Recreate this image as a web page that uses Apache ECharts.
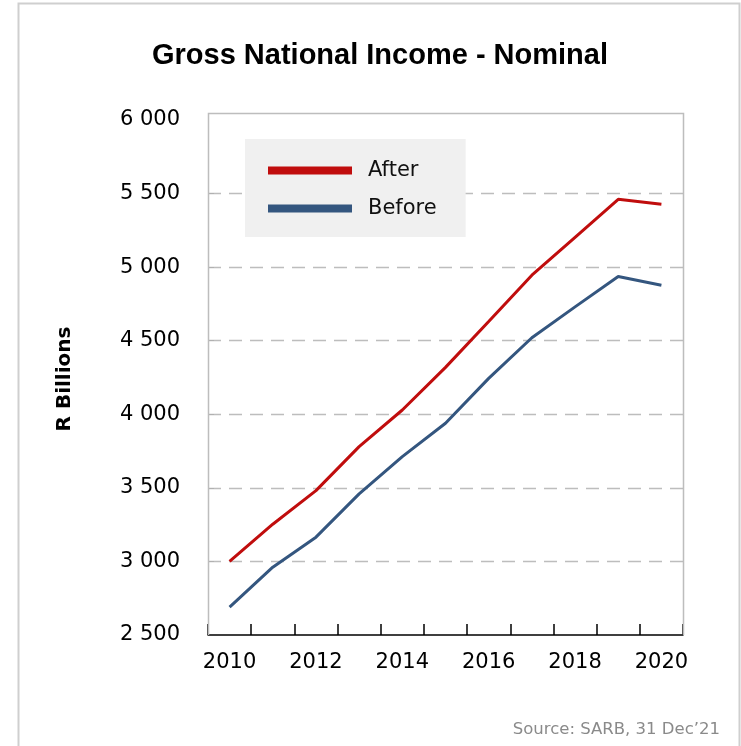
<!DOCTYPE html>
<html>
<head>
<meta charset="utf-8">
<script src="https://cdn.jsdelivr.net/npm/echarts@6/dist/echarts.min.js"></script>
<style>
html,body{margin:0;padding:0;background:#fff;}
#chart{width:741px;height:746px;}
</style>
</head>
<body>
<div id="chart"></div>
<script>
const years = ['2010','2011','2012','2013','2014','2015','2016','2017','2018','2019','2020'];
const afterValues = [3000, 3253, 3481, 3780, 4029, 4319, 4630, 4945, 5203, 5461, 5427];
const beforeValues = [2690, 2961, 3165, 3459, 3712, 3939, 4244, 4520, 4730, 4936, 4877];
const yTicks = { min: 2500, max: 6000, interval: 500 };

const W = 741, H = 746;
const G = { left: 208, right: 58, top: 120, bottom: 111 };
const frameTop = 113.5;
const gx0 = G.left + 0.5, gx1 = W - G.right + 0.5, gy1 = H - G.bottom;

const innerTicks = [];
for (let v = yTicks.min + yTicks.interval; v < yTicks.max; v += yTicks.interval) innerTicks.push(v);

const fmt = v => String(v).replace(/\B(?=(\d{3})+(?!\d))/g, ' ');
const FONT = 'DejaVu Sans';

const chart = echarts.init(document.getElementById('chart'), null, { renderer: 'canvas' });
chart.setOption({
  animation: false,
  backgroundColor: '#ffffff',
  title: {
    text: 'Gross National Income - Nominal',
    left: 375, top: 36, textAlign: 'center',
    textStyle: { fontFamily: 'Liberation Sans', fontWeight: 'bold', fontSize: 29, color: '#000' }
  },
  legend: {
    orient: 'vertical',
    left: 245, top: 139,
    padding: [21, 29, 18, 23],
    itemGap: 17,
    itemWidth: 84, itemHeight: 8,
    icon: 'rect',
    backgroundColor: '#f0f0f0',
    textStyle: { fontFamily: FONT, fontSize: 21, color: '#111', padding: [0, 0, 0, 11] },
    data: ['After', 'Before']
  },
  grid: { left: G.left, right: G.right, top: G.top, bottom: G.bottom },
  xAxis: {
    type: 'category',
    data: years,
    boundaryGap: true,
    axisLine: { show: true, lineStyle: { color: '#000', width: 1.5 } },
    axisTick: { show: true, interval: 0, inside: true, length: 11, lineStyle: { color: '#000', width: 1.5 } },
    axisLabel: { interval: 1, margin: 17, fontFamily: FONT, fontSize: 21, color: '#000' },
    splitLine: { show: false }
  },
  yAxis: {
    type: 'value',
    min: yTicks.min, max: yTicks.max, interval: yTicks.interval,
    axisLine: { show: false },
    axisTick: { show: true, inside: true, length: 6, customValues: innerTicks, lineStyle: { color: '#b0b0b0' } },
    axisLabel: { margin: 28, fontFamily: FONT, fontSize: 21, color: '#000', formatter: fmt },
    splitLine: { show: true, showMinLine: true, showMaxLine: true,
      lineStyle: { color: '#bdbdbd', width: 1.4, type: [13, 8] } }
  },
  series: [
    { name: 'After', type: 'line', data: afterValues, symbol: 'none', smooth: false,
      color: '#C00D0D', lineStyle: { color: '#C00D0D', width: 3 } },
    { name: 'Before', type: 'line', data: beforeValues, symbol: 'none', smooth: false,
      color: '#34567F', lineStyle: { color: '#34567F', width: 3 } }
  ],
  graphic: [
    { type: 'rect', silent: true, z: -1,
      shape: { x: 18.5, y: 3.5, width: 721, height: 760 },
      style: { fill: 'none', stroke: '#cfcfcf', lineWidth: 2 } },
    { type: 'polyline', silent: true, z: 5,
      shape: { points: [[gx0, gy1], [gx0, frameTop], [gx1, frameTop], [gx1, gy1]] },
      style: { fill: 'none', stroke: '#bdbdbd', lineWidth: 1.5 } },
    { type: 'text', silent: true, x: 65, y: 379, rotation: Math.PI / 2,
      style: { text: 'R Billions', align: 'center', verticalAlign: 'middle',
        font: 'bold 20px "DejaVu Sans"', fill: '#000' } },
    { type: 'text', silent: true, x: 720, y: 730,
      style: { text: 'Source: SARB, 31 Dec\u201921', align: 'right', verticalAlign: 'middle',
        font: '16.5px "DejaVu Sans"', fill: '#8a8a8a' } }
  ]
});
</script>
</body>
</html>
